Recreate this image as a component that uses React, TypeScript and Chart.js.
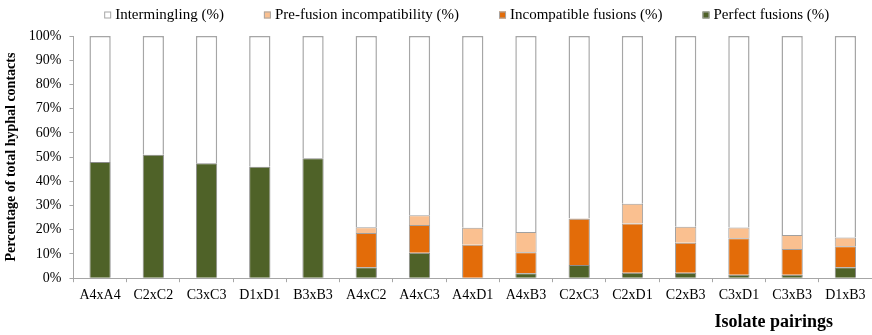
import React, { useEffect, useRef } from "react";
import { Chart, registerables } from "chart.js";

Chart.register(...registerables);

const categories = ["A4xA4", "C2xC2", "C3xC3", "D1xD1", "B3xB3", "A4xC2", "A4xC3", "A4xD1", "A4xB3", "C2xC3", "C2xD1", "C2xB3", "C3xD1", "C3xB3", "D1xB3"];
const perfect = [48, 51, 47.5, 46, 49.5, 4.5, 10.5, 0, 2, 5.4, 2.2, 2.2, 1.4, 1.4, 4.5];
const incompatible = [0, 0, 0, 0, 0, 14.2, 11.5, 13.8, 8.7, 19.1, 20.4, 12.4, 15.1, 10.7, 8.7];
const preFusion = [0, 0, 0, 0, 0, 2.3, 4, 7, 8.4, 0.3, 8.1, 6.6, 4.4, 5.7, 3.6];
const intermingling = categories.map((_, i) => 100 - perfect[i] - incompatible[i] - preFusion[i]);
const yTicks = [0, 10, 20, 30, 40, 50, 60, 70, 80, 90, 100];

const FONT = "'Liberation Serif', 'Times New Roman', serif";

const customLegend = {
  id: "customLegend",
  afterDraw(chart: any) {
    const ctx = chart.ctx;
    const ds = [...chart.data.datasets].reverse();
    ctx.save();
    ctx.font = `15px ${FONT}`;
    ctx.textBaseline = "middle";
    const box = 7, gapText = 4, gap = 40;
    const widths = ds.map((d: any) => box + gapText + ctx.measureText(d.label).width);
    const total = widths.reduce((a: number, b: number) => a + b, 0) + gap * (ds.length - 1);
    const ca = chart.chartArea;
    let x = (ca.left + ca.right) / 2 - total / 2 - 6;
    const y = 15;
    ds.forEach((d: any, i: number) => {
      ctx.fillStyle = d.backgroundColor;
      ctx.fillRect(x, y - box / 2, box, box);
      ctx.strokeStyle = "#a6a6a6";
      ctx.lineWidth = 1;
      ctx.strokeRect(x + 0.5, y - box / 2 + 0.5, box - 1, box - 1);
      ctx.fillStyle = "#000";
      ctx.fillText(d.label, x + box + gapText, y);
      x += widths[i] + gap;
    });
    // x axis title
    ctx.font = `bold 18px ${FONT}`;
    ctx.textAlign = "right";
    ctx.fillText("Isolate pairings", 833, 322);
    ctx.restore();
  },
};

export default function App() {
  const ref = useRef<HTMLCanvasElement>(null);
  useEffect(() => {
    if (!ref.current) return;
    const chart = new Chart(ref.current, {
      type: "bar",
      data: {
        labels: categories,
        datasets: [
          { label: "Perfect fusions (%)", data: perfect, backgroundColor: "#4f6228", borderColor: "#8c8c8c", borderWidth: 1 },
          { label: "Incompatible fusions (%)", data: incompatible, backgroundColor: "#e36c09", borderColor: "#a0a0a0", borderWidth: 1 },
          { label: "Pre-fusion incompatibility (%)", data: preFusion, backgroundColor: "#fac090", borderColor: "#a0a0a0", borderWidth: 1 },
          { label: "Intermingling (%)", data: intermingling, backgroundColor: "#ffffff", borderColor: "#a6a6a6", borderWidth: 1.5 },
        ],
      },
      plugins: [customLegend],
      options: {
        animation: false,
        responsive: false,
        maintainAspectRatio: false,
        layout: { padding: { left: 0, right: 0, top: 36, bottom: 26 } },
        datasets: { bar: { barPercentage: 0.4, categoryPercentage: 1 } },
        plugins: {
          tooltip: { enabled: false },
          legend: { display: false },
        },
        scales: {
          x: {
            stacked: true,
            grid: { drawOnChartArea: false, drawTicks: true, tickLength: 4, color: "#a6a6a6" },
            border: { color: "#a6a6a6" },
            ticks: { color: "#000", font: { family: FONT, size: 14 }, maxRotation: 0, autoSkip: false, padding: 5 },
          },
          y: {
            stacked: true,
            min: 0,
            max: 100,
            afterBuildTicks: (axis: any) => { axis.ticks = yTicks.map((v) => ({ value: v })); },
            grid: { drawOnChartArea: false, drawTicks: true, tickLength: 4, color: "#a6a6a6" },
            border: { color: "#a6a6a6" },
            ticks: { color: "#000", font: { family: FONT, size: 14 }, callback: (v: any) => v + "%", padding: 8 },
            title: { display: true, text: "Percentage of total hyphal contacts", color: "#000", font: { family: FONT, size: 14, weight: "bold" }, padding: { top: 3, bottom: 1 } },
          },
        },
      },
    });
    return () => chart.destroy();
  }, []);
  return (
    <div style={{ position: "absolute", left: 0, top: 0, width: 872, height: 335, background: "#fff" }}>
      <canvas ref={ref} width={872} height={335} style={{ width: 872, height: 335 }} />
    </div>
  );
}
